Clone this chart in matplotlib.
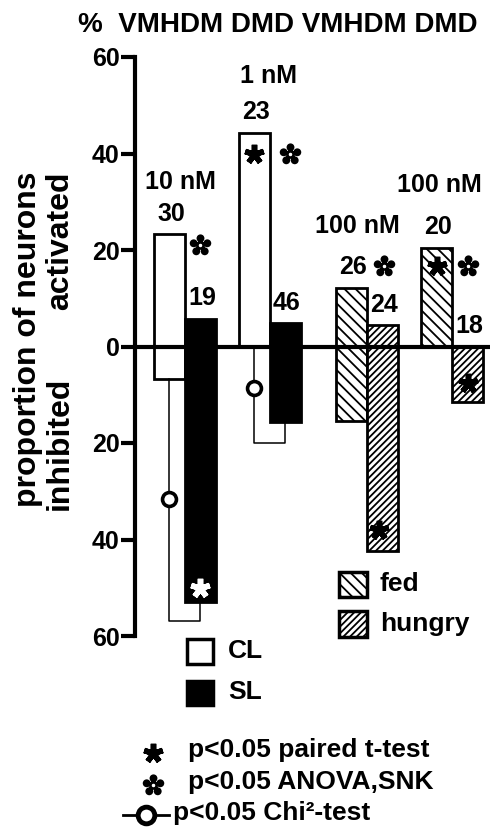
import numpy as np
import matplotlib
matplotlib.use("Agg")
import matplotlib.pyplot as plt
from matplotlib.patches import Rectangle
from matplotlib.path import Path

plt.rcParams['font.family'] = ['Liberation Sans', 'DejaVu Sans']
plt.rcParams['font.weight'] = 'bold'
plt.rcParams['hatch.linewidth'] = 1.3

# data (percent of neurons), groups: 1st pair = VMH, 2nd pair = DMD
cl_act = [23.3, 44.3]
cl_inh = [6.8, 0.0]
sl_act = [5.8, 4.8]
sl_inh = [53.0, 15.7]
fed_act = [12.2, 20.5]
fed_inh = [15.5, 0.0]
hun_act = [4.5, 0.0]
hun_inh = [42.4, 11.4]

n_cl = [30, 23]
n_sl = [19, 46]
n_fed = [26, 20]
n_hun = [24, 18]

conc_cl = ["10 nM", "1 nM"]
conc_fh = ["100 nM", "100 nM"]

# layout (x in units of one bar width)
w = 1.0
pair_cl = [1.61, 4.35]
pair_fh = [7.48, 10.23]

# flower marker (5 teardrop petals) for ANOVA,SNK
petals = []
for k in range(5):
    a = np.pi/2 + k*2*np.pi/5
    petals.append(Path.circle((0.62*np.cos(a), 0.62*np.sin(a)), 0.34))
    petals.append(Path.circle((0.3*np.cos(a), 0.3*np.sin(a)), 0.2))
flower_path = Path.make_compound_path(*petals)

fig = plt.figure(figsize=(4.9, 8.27), dpi=100)
ax = fig.add_axes([135/490, 191/827, 355/490, 579/827])
ax.set_xlim(0, 11.45)
ax.set_ylim(-60, 60)

lw_bar = 2.0
x_cl = [p - w/2 for p in pair_cl]
x_sl = [p + w/2 for p in pair_cl]
x_fed = [p - w/2 for p in pair_fh]
x_hun = [p + w/2 for p in pair_fh]

ax.bar(x_cl, cl_act, w, color='white', edgecolor='black', lw=lw_bar)
ax.bar(x_cl, [-v for v in cl_inh], w, color='white', edgecolor='black', lw=lw_bar)
ax.bar(x_sl, sl_act, w, color='black', edgecolor='black', lw=lw_bar)
ax.bar(x_sl, [-v for v in sl_inh], w, color='black', edgecolor='black', lw=lw_bar)
ax.bar(x_fed, fed_act, w, color='white', edgecolor='black', lw=lw_bar, hatch='\\\\\\')
ax.bar(x_fed, [-v for v in fed_inh], w, color='white', edgecolor='black', lw=lw_bar, hatch='\\\\\\')
ax.bar(x_hun, hun_act, w, color='white', edgecolor='black', lw=lw_bar, hatch='/////')
ax.bar(x_hun, [-v for v in hun_inh], w, color='white', edgecolor='black', lw=lw_bar, hatch='/////')

ax.axhline(0, color='black', lw=3, zorder=5)

fs = 18
# n labels above bars
for xs, tops, ns in [(x_cl, cl_act, n_cl), (x_sl, sl_act, n_sl),
                     (x_fed, fed_act, n_fed), (x_hun, hun_act, n_hun)]:
    for x, t, n in zip(xs, tops, ns):
        ax.text(x + 0.05, t + 4.2, str(n), ha='center', va='center', fontsize=fs)

# concentration labels
ax.text(pair_cl[0] - 0.15, 34, conc_cl[0], ha='center', va='center', fontsize=fs)
ax.text(pair_cl[1] - 0.05, 56, conc_cl[1], ha='center', va='center', fontsize=fs)
ax.text(pair_fh[0] - 0.3, 25, conc_fh[0], ha='center', va='center', fontsize=fs)
ax.text(pair_fh[1] - 0.4, 33.5, conc_fh[1], ha='center', va='center', fontsize=fs)

# chi-square brackets
def bracket(x1, y1, x2, y2, ybot, ycirc):
    ax.plot([x1, x1, x2, x2], [-y1, -ybot, -ybot, -y2], color='black', lw=1.1, zorder=3, clip_on=False)
    ax.plot([x1], [-ycirc], marker='o', ms=10, mfc='white', mec='black', mew=2.6, zorder=6)

bracket(x_cl[0], cl_inh[0], x_sl[0], sl_inh[0], 56.9, 31.7)
bracket(x_cl[1], cl_inh[1], x_sl[1], sl_inh[1], 19.9, 8.5)

# paired t-test asterisks
def star(x, y, c='black'):
    ax.plot([x], [y], marker=(5, 2, 0), ms=14, mew=4, color=c, zorder=7, clip_on=False)

def flower(x, y):
    ax.plot([x], [y], marker=flower_path, ms=16, mew=0, color='black', zorder=7, clip_on=False)
    ax.plot([x], [y], marker='o', ms=2.5, mew=0, color='white', zorder=8, clip_on=False)

star(x_cl[1], 40)
star(x_fed[1], 16.6)
star(x_hun[1], -7.5)
star(x_hun[0] - 0.1, -38)
star(x_sl[0], -50, 'white')

flower(x_sl[0], 21)
flower(x_sl[1] + 0.15, 40)
flower(x_hun[0] + 0.05, 16.6)
flower(x_hun[1], 16.6)

# legends: CL / SL
ax.add_patch(Rectangle((1.68, -65.8), 0.85, 5.1, facecolor='white', edgecolor='black', lw=2.5, clip_on=False))
ax.add_patch(Rectangle((1.68, -74.4), 0.85, 5.1, facecolor='black', edgecolor='black', lw=2.5, clip_on=False))
ax.text(3.0, -63.2, "CL", ha='left', va='center', fontsize=19)
ax.text(3.0, -71.7, "SL", ha='left', va='center', fontsize=19)

# legends: fed / hungry
ax.add_patch(Rectangle((6.57, -52.0), 0.92, 5.3, facecolor='white', edgecolor='black', lw=2.5, hatch='\\\\\\', clip_on=False))
ax.add_patch(Rectangle((6.57, -60.2), 0.92, 5.3, facecolor='white', edgecolor='black', lw=2.5, hatch='/////', clip_on=False))
ax.text(7.9, -49.3, "fed", ha='left', va='center', fontsize=19)
ax.text(7.9, -57.6, "hungry", ha='left', va='center', fontsize=19)

# significance legend
star(0.58, -84.3)
ax.text(1.7, -83.6, "p<0.05 paired t-test", ha='left', va='center', fontsize=19)
flower(0.58, -90.8)
ax.text(1.7, -90.3, "p<0.05 ANOVA,SNK", ha='left', va='center', fontsize=19)
ax.plot([-0.4, 0.1], [-97.0, -97.0], color='black', lw=2, clip_on=False)
ax.plot([0.64, 1.1], [-97.0, -97.0], color='black', lw=2, clip_on=False)
ax.plot([0.37], [-97.0], marker='o', ms=12, mfc='white', mec='black', mew=3.5, clip_on=False)
ax.text(1.22, -96.6, "p<0.05 Chi\u00b2-test", ha='left', va='center', fontsize=19)

# axes styling
for s in ['top', 'right', 'bottom']:
    ax.spines[s].set_visible(False)
ax.spines['left'].set_linewidth(3)
ax.set_xticks([])
ticks = [60, 40, 20, 0, -20, -40, -60]
ax.set_yticks(ticks)
ax.set_yticklabels([str(abs(t)) for t in ticks], fontsize=18, fontweight='bold')
ax.tick_params(axis='y', direction='out', length=10, width=3, pad=1)

# y labels
fig.text(28/490, 1 - 339/827, "proportion of neurons", rotation=90, ha='center', va='center', fontsize=23)
fig.text(60/490, 1 - 241/827, "activated", rotation=90, ha='center', va='center', fontsize=23)
fig.text(60/490, 1 - 443/827, "inhibited", rotation=90, ha='center', va='center', fontsize=23)

# header
fig.text(78/490, 1 - 25/827, "%  VMHDM DMD VMHDM DMD", ha='left', va='center', fontsize=20)

fig.savefig("out.png", dpi=100)
